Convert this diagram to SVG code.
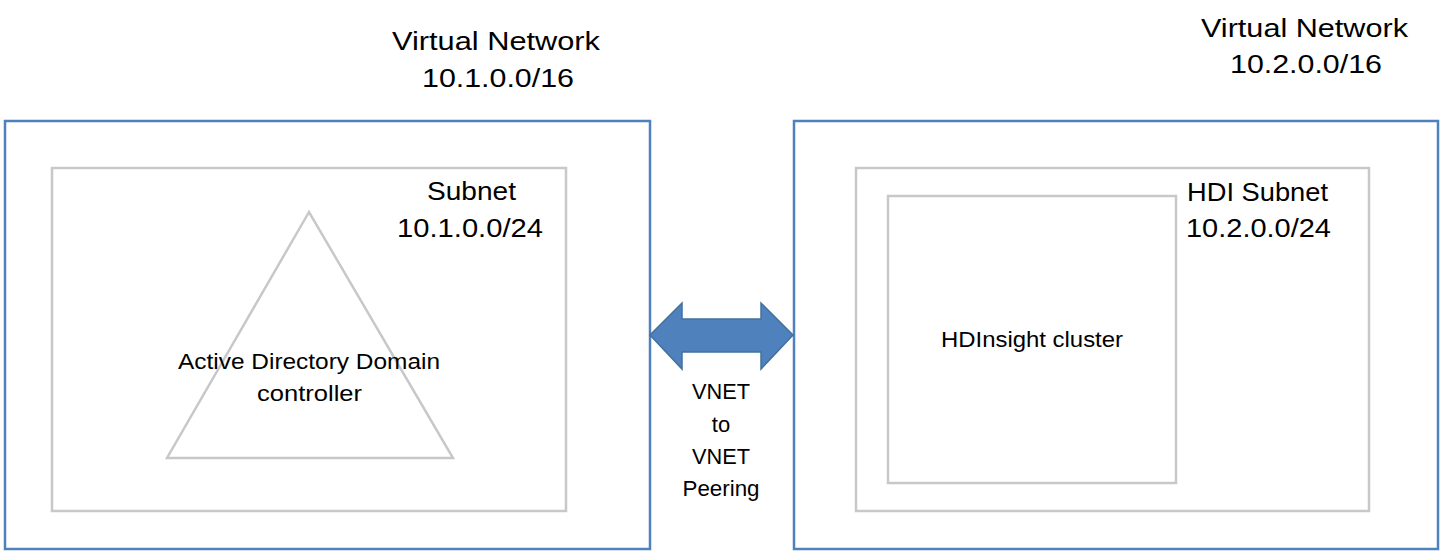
<svg xmlns="http://www.w3.org/2000/svg" width="1443" height="553" viewBox="0 0 1443 553">
<style>
.vnet{fill:#ffffff;stroke:#4f81bd;stroke-width:2.5}
.sub{fill:#ffffff;stroke:#c8c8c8;stroke-width:2.5}
.lg{font-family:"Liberation Sans",Arial,sans-serif;font-size:25px;fill:#000}
.sm{font-family:"Liberation Sans",Arial,sans-serif;font-size:22px;fill:#000}
</style>
<rect width="1443" height="553" fill="#ffffff"/>
<g id="vnet1">
<rect class="vnet" x="5" y="121" width="645" height="428"/>
<text class="lg" x="392" y="50" textLength="208" lengthAdjust="spacingAndGlyphs">Virtual Network</text>
<text class="lg" x="422" y="87" textLength="152" lengthAdjust="spacingAndGlyphs">10.1.0.0/16</text>
</g>
<g id="subnet1">
<rect class="sub" x="52" y="168" width="514" height="343"/>
<text class="lg" x="427" y="200" textLength="89" lengthAdjust="spacingAndGlyphs">Subnet</text>
<text class="lg" x="397" y="237" textLength="146" lengthAdjust="spacingAndGlyphs">10.1.0.0/24</text>
</g>
<g id="adc">
<polygon class="sub" points="309,212 167,458 453,458"/>
<text class="sm" x="178" y="369" textLength="262" lengthAdjust="spacingAndGlyphs">Active Directory Domain</text>
<text class="sm" x="257" y="401" textLength="105" lengthAdjust="spacingAndGlyphs">controller</text>
</g>
<g id="vnet2">
<rect class="vnet" x="794" y="121" width="644" height="428"/>
<text class="lg" x="1201" y="37" textLength="207" lengthAdjust="spacingAndGlyphs">Virtual Network</text>
<text class="lg" x="1230" y="73" textLength="152" lengthAdjust="spacingAndGlyphs">10.2.0.0/16</text>
</g>
<g id="subnet2">
<rect class="sub" x="856" y="168" width="513" height="343"/>
<text class="lg" x="1187" y="201" textLength="141" lengthAdjust="spacingAndGlyphs">HDI Subnet</text>
<text class="lg" x="1186" y="237" textLength="145" lengthAdjust="spacingAndGlyphs">10.2.0.0/24</text>
</g>
<g id="hdinsight">
<rect class="sub" x="888" y="196" width="288" height="287"/>
<text class="sm" x="941" y="347" textLength="182" lengthAdjust="spacingAndGlyphs">HDInsight cluster</text>
</g>
<g id="connectors">
<polygon points="650,335 682,303 682,319 761,319 761,303 793,335 761,369 761,352 682,352 682,369" fill="#4f81bd" stroke="#41719c" stroke-width="1.5" stroke-linejoin="miter"/>
<text class="sm" x="721" y="399" text-anchor="middle" textLength="58" lengthAdjust="spacingAndGlyphs">VNET</text>
<text class="sm" x="721" y="432" text-anchor="middle">to</text>
<text class="sm" x="721" y="464" text-anchor="middle" textLength="58" lengthAdjust="spacingAndGlyphs">VNET</text>
<text class="sm" x="721" y="496" text-anchor="middle" textLength="77" lengthAdjust="spacingAndGlyphs">Peering</text>
</g>
</svg>
